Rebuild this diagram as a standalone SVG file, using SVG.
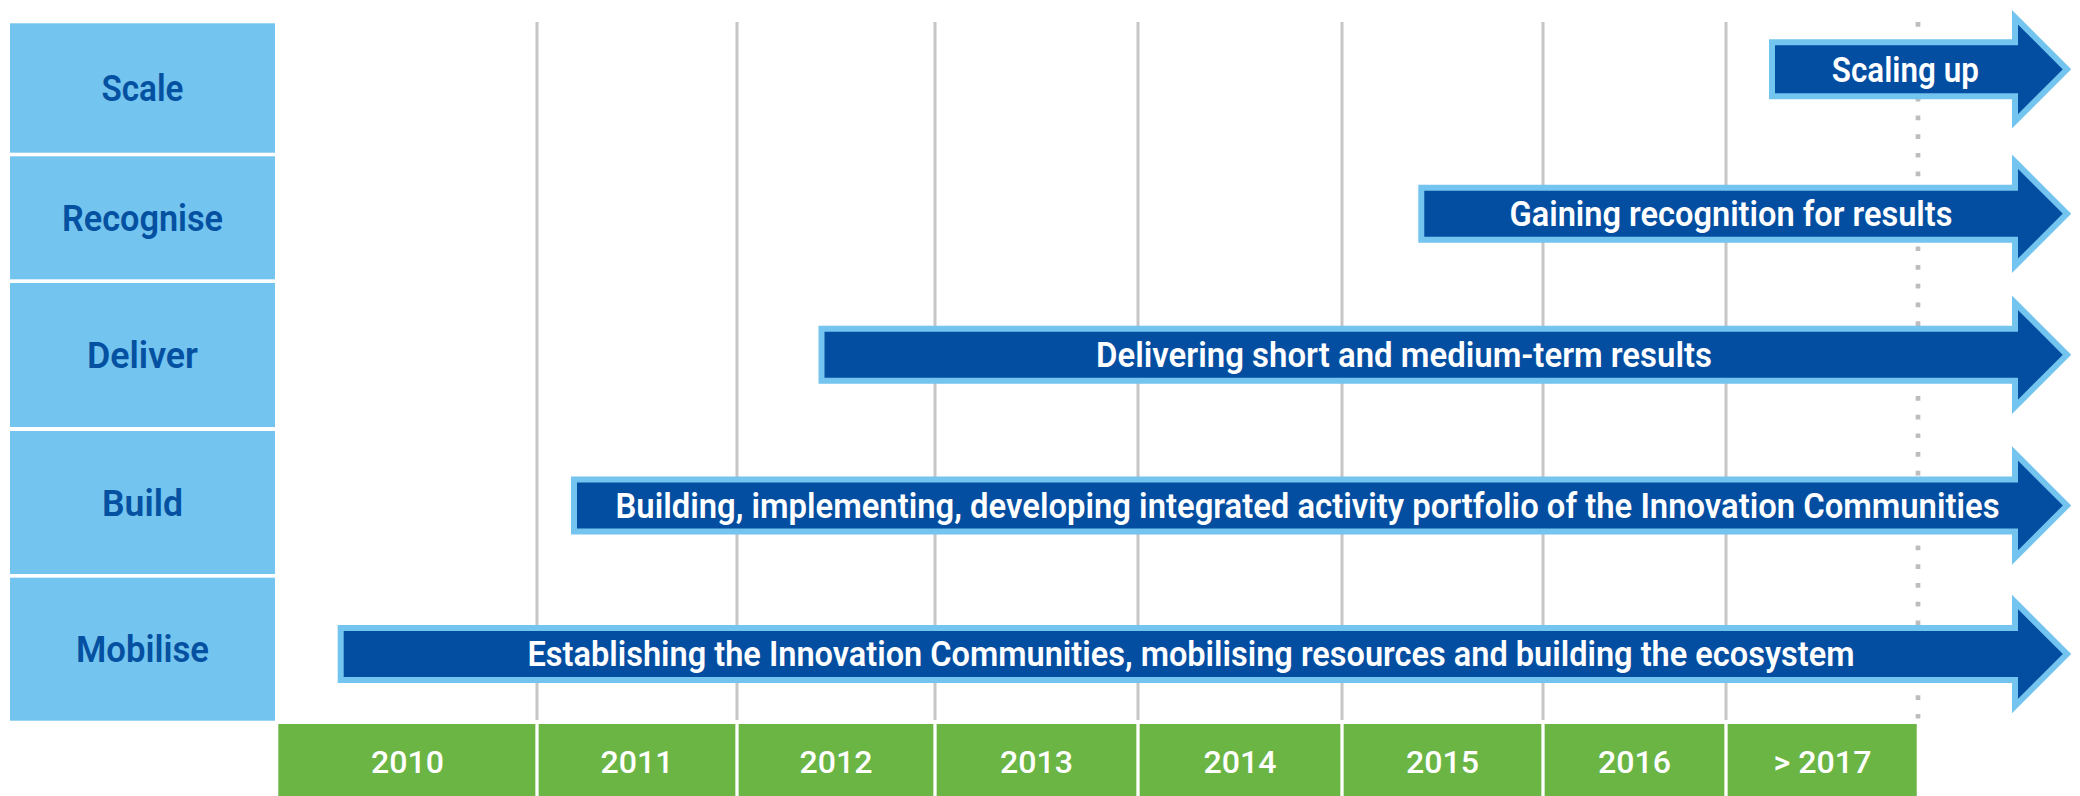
<svg xmlns="http://www.w3.org/2000/svg" width="2080" height="796" viewBox="0 0 2080 796">
<style>
.box{fill:#73C4EE}
.blabel{font-family:Roboto,"Liberation Sans",sans-serif;font-weight:600;font-size:36px;fill:#0450A1;text-anchor:middle}
.grid{stroke:#C6C6C6;stroke-width:3;fill:none}
.dots{stroke:#BDBDBD;stroke-width:4.7;stroke-dasharray:4.7 14;fill:none}
.arrow{fill:#044EA2;stroke:#73C4EE;stroke-width:6;stroke-linejoin:miter;stroke-miterlimit:10}
.alabel{font-family:Roboto,"Liberation Sans",sans-serif;font-weight:600;font-size:35px;fill:#FFFFFF;text-anchor:middle}
.year{fill:#6BB545}
.ylabel{font-family:Roboto,"Liberation Sans",sans-serif;font-weight:500;font-size:32px;fill:#FFFFFF;text-anchor:middle}
.sep{stroke:#FFFFFF;stroke-width:3.3}
</style>
<rect width="2080" height="796" fill="#FFFFFF"/>

<g id="phases">
  <g id="phase-scale"><rect class="box" x="10" y="23.3" width="265" height="129.4"/><text class="blabel" x="142.5" y="101" textLength="82" lengthAdjust="spacingAndGlyphs">Scale</text></g>
  <g id="phase-recognise"><rect class="box" x="10" y="156.3" width="265" height="123"/><text class="blabel" x="142.5" y="231" textLength="161" lengthAdjust="spacingAndGlyphs">Recognise</text></g>
  <g id="phase-deliver"><rect class="box" x="10" y="283" width="265" height="144"/><text class="blabel" x="142.5" y="368" textLength="111" lengthAdjust="spacingAndGlyphs">Deliver</text></g>
  <g id="phase-build"><rect class="box" x="10" y="431" width="265" height="143"/><text class="blabel" x="142.5" y="515.5" textLength="81" lengthAdjust="spacingAndGlyphs">Build</text></g>
  <g id="phase-mobilise"><rect class="box" x="10" y="577.7" width="265" height="143"/><text class="blabel" x="142.5" y="662" textLength="133" lengthAdjust="spacingAndGlyphs">Mobilise</text></g>
</g>

<g id="gridlines">
  <line class="grid" x1="537" y1="22" x2="537" y2="720"/>
  <line class="grid" x1="737" y1="22" x2="737" y2="720"/>
  <line class="grid" x1="935" y1="22" x2="935" y2="720"/>
  <line class="grid" x1="1138" y1="22" x2="1138" y2="720"/>
  <line class="grid" x1="1342" y1="22" x2="1342" y2="720"/>
  <line class="grid" x1="1543" y1="22" x2="1543" y2="720"/>
  <line class="grid" x1="1726" y1="22" x2="1726" y2="720"/>
  <line class="dots" x1="1918" y1="22" x2="1918" y2="720"/>
</g>

<g id="timeline">
  <rect class="year" x="278.3" y="724" width="1638.4" height="72"/>
  <line class="sep" x1="537" y1="724" x2="537" y2="796"/>
  <line class="sep" x1="737" y1="724" x2="737" y2="796"/>
  <line class="sep" x1="935" y1="724" x2="935" y2="796"/>
  <line class="sep" x1="1138" y1="724" x2="1138" y2="796"/>
  <line class="sep" x1="1342" y1="724" x2="1342" y2="796"/>
  <line class="sep" x1="1543" y1="724" x2="1543" y2="796"/>
  <line class="sep" x1="1726" y1="724" x2="1726" y2="796"/>
  <text class="ylabel" x="407.5" y="772.7" textLength="73" lengthAdjust="spacingAndGlyphs">2010</text>
  <text class="ylabel" x="637" y="772.7" textLength="73" lengthAdjust="spacingAndGlyphs">2011</text>
  <text class="ylabel" x="836" y="772.7" textLength="73" lengthAdjust="spacingAndGlyphs">2012</text>
  <text class="ylabel" x="1036.5" y="772.7" textLength="73" lengthAdjust="spacingAndGlyphs">2013</text>
  <text class="ylabel" x="1240" y="772.7" textLength="73" lengthAdjust="spacingAndGlyphs">2014</text>
  <text class="ylabel" x="1442.5" y="772.7" textLength="73" lengthAdjust="spacingAndGlyphs">2015</text>
  <text class="ylabel" x="1634.5" y="772.7" textLength="73" lengthAdjust="spacingAndGlyphs">2016</text>
  <text class="ylabel" x="1822.5" y="772.7" textLength="98" lengthAdjust="spacingAndGlyphs">&gt; 2017</text>
</g>

<g id="arrow-scaling">
  <path class="arrow" d="M1772,42.3 H2015 V17.3 L2067,69.3 L2015,121.3 V96.3 H1772 Z"/>
  <text class="alabel" x="1905.3" y="81.7" textLength="147" lengthAdjust="spacingAndGlyphs">Scaling up</text>
</g>
<g id="arrow-recognition">
  <path class="arrow" d="M1421.3,187.7 H2015 V161.7 L2067,213.7 L2015,265.7 V239.7 H1421.3 Z"/>
  <text class="alabel" x="1731" y="226" textLength="443" lengthAdjust="spacingAndGlyphs">Gaining recognition for results</text>
</g>
<g id="arrow-delivering">
  <path class="arrow" d="M821.5,328.8 H2015 V302.8 L2067,354.8 L2015,406.8 V380.8 H821.5 Z"/>
  <text class="alabel" x="1404" y="367.2" textLength="616" lengthAdjust="spacingAndGlyphs">Delivering short and medium-term results</text>
</g>
<g id="arrow-building">
  <path class="arrow" d="M574,479.5 H2015 V453.5 L2067,505.5 L2015,557.5 V531.5 H574 Z"/>
  <text class="alabel" x="1307.5" y="517.9" textLength="1384" lengthAdjust="spacingAndGlyphs">Building, implementing, developing integrated activity portfolio of the Innovation Communities</text>
</g>
<g id="arrow-establishing">
  <path class="arrow" d="M340.7,628 H2015 V602 L2067,654 L2015,706 V680 H340.7 Z"/>
  <text class="alabel" x="1191" y="666.4" textLength="1327" lengthAdjust="spacingAndGlyphs">Establishing the Innovation Communities, mobilising resources and building the ecosystem</text>
</g>
</svg>
